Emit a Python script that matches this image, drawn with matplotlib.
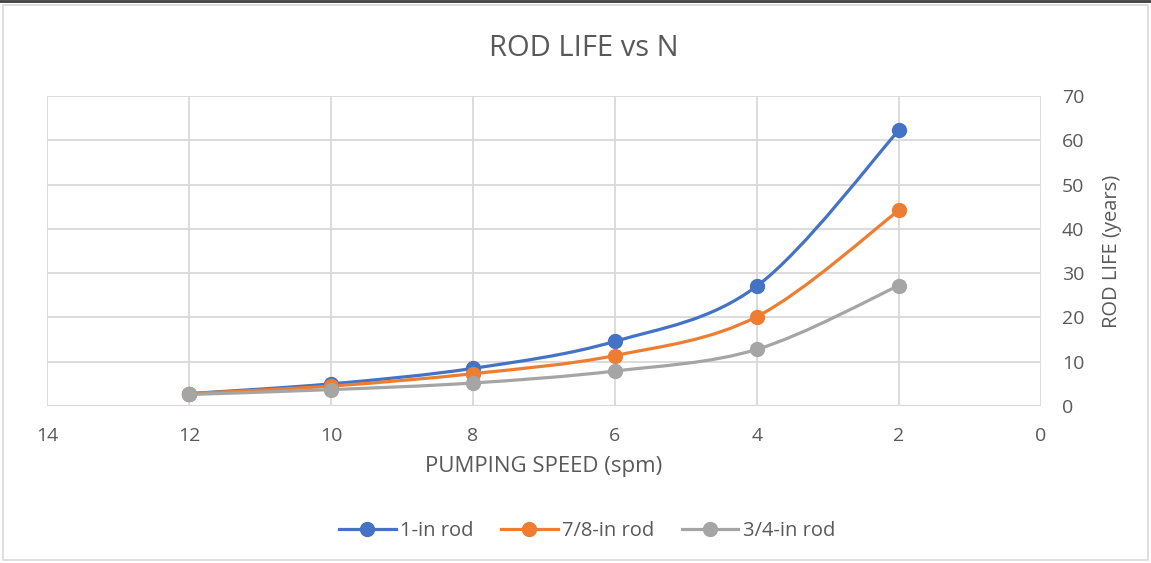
import numpy as np
import matplotlib.pyplot as plt
from matplotlib.path import Path
from matplotlib.patches import PathPatch, Rectangle
from matplotlib.lines import Line2D

plt.rcParams['font.family'] = ['Open Sans', 'DejaVu Sans']

speed = [12, 10, 8, 6, 4, 2]
rod_1in = [2.8, 5.0, 8.5, 14.6, 27.1, 62.3]
rod_78in = [2.8, 4.5, 7.3, 11.4, 20.2, 44.2]
rod_34in = [2.6, 3.7, 5.2, 7.9, 12.8, 27.2]

series = [("1-in rod", rod_1in, "#4472C4"),
          ("7/8-in rod", rod_78in, "#ED7D31"),
          ("3/4-in rod", rod_34in, "#A5A5A5")]

txt = "#595959"
grid = "#D9D9D9"


def smooth_path(x, y):
    # Excel-style smoothed line: Catmull-Rom segments as cubic Beziers
    x = np.asarray(x, float)
    y = np.asarray(y, float)
    pts = np.column_stack([x, y])
    verts = [pts[0]]
    codes = [Path.MOVETO]
    n = len(pts)
    for i in range(n - 1):
        p0 = pts[i - 1] if i > 0 else pts[i]
        p1 = pts[i]
        p2 = pts[i + 1]
        p3 = pts[i + 2] if i + 2 < n else pts[i + 1]
        c1 = p1 + (p2 - p0) / 6.0
        c2 = p2 - (p3 - p1) / 6.0
        verts += [c1, c2, p2]
        codes += [Path.CURVE4] * 3
    return Path(verts, codes)


fig = plt.figure(figsize=(11.51, 5.63), dpi=100)
ax = fig.add_axes([47 / 1151, 1 - 406 / 563, (1041 - 47) / 1151, (406 - 96) / 563])

for name, vals, col in series:
    ax.add_patch(PathPatch(smooth_path(speed, vals), facecolor='none',
                           edgecolor=col, lw=2.3, capstyle='round', zorder=3))
    ax.plot(speed, vals, ls='none', marker='o', ms=10, color=col, zorder=4)

ax.set_xlim(14, 0)
ax.set_ylim(0, 70)
ax.set_xticks(range(0, 15, 2))
ax.set_yticks(range(0, 71, 10))
ax.yaxis.tick_right()
ax.yaxis.set_label_position('right')
ax.grid(True, color=grid, lw=1.3)
for s in ax.spines.values():
    s.set_visible(False)
ax.axhline(0, color=grid, lw=1.6, zorder=2)
ax.tick_params(length=0, labelsize=14, colors=txt)
ax.tick_params(axis='x', pad=15)
ax.tick_params(axis='y', pad=15)
ax.set_xlabel("PUMPING SPEED (spm)", fontsize=16, color=txt, labelpad=8)
ax.set_ylabel("ROD LIFE (years)", fontsize=14.5, color=txt, labelpad=13)

fig.text(0.507, 1 - 48 / 563, "ROD LIFE vs N", ha='center', va='center',
         fontsize=21, color=txt)

handles = [Line2D([], [], color=c, lw=2.3, marker='o', ms=10) for _, _, c in series]
fig.legend(handles, [n for n, _, _ in series], loc='center',
           bbox_to_anchor=(587 / 1151, 1 - 531 / 563), ncol=3, frameon=False,
           fontsize=14.5, labelcolor=txt, handlelength=2.8, columnspacing=1.4,
           handletextpad=0.2)

fig.patches.append(Rectangle((3 / 1151, 0.005), 1 - 6 / 1151, 1 - 8 / 563,
                             transform=fig.transFigure, fill=False,
                             edgecolor=grid, lw=1.2))
fig.add_artist(Line2D([0, 1], [1 - 1 / 563, 1 - 1 / 563], transform=fig.transFigure,
                      color="#404040", lw=2))

fig.savefig("out.png", dpi=100)
